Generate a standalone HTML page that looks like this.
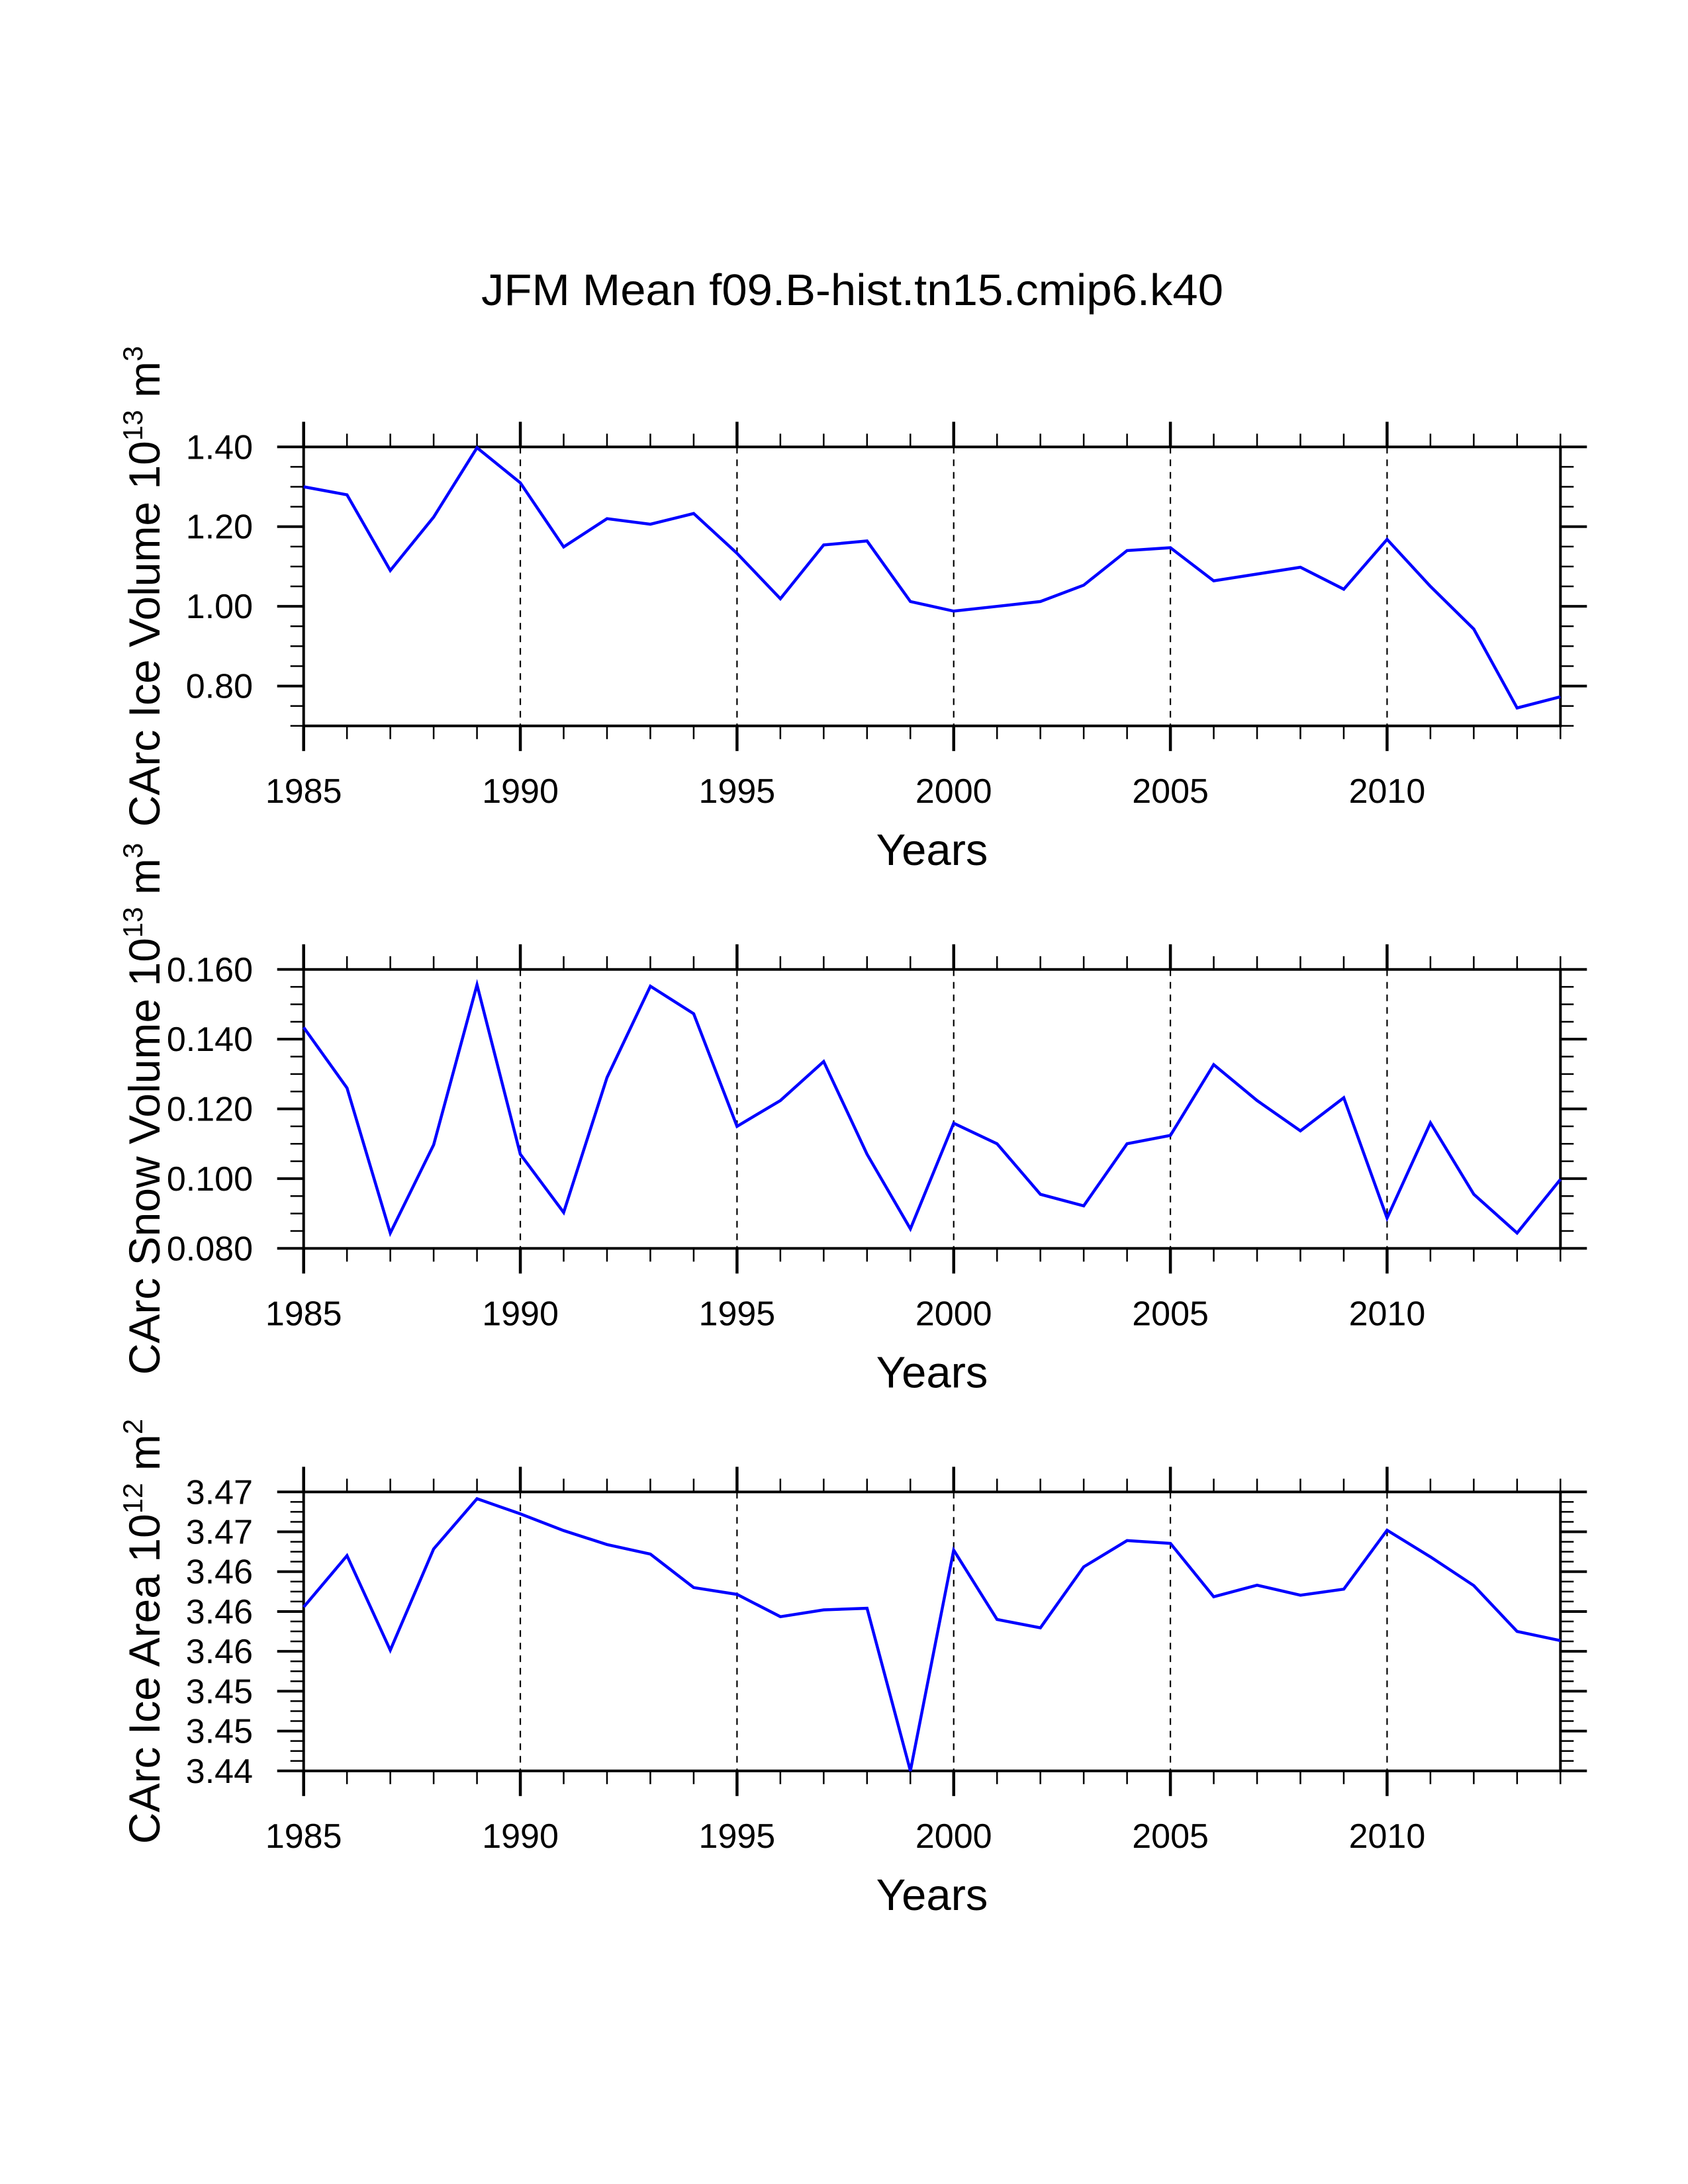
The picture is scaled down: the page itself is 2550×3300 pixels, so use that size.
<!DOCTYPE html>
<html><head><meta charset="utf-8"><style>
html,body{margin:0;padding:0;background:#fff;}
svg{display:block;font-family:"Liberation Sans",Arial,sans-serif;}
</style></head><body>
<svg id="fig" width="2550" height="3300" viewBox="0 0 2550 3300" xmlns="http://www.w3.org/2000/svg">
<rect x="0" y="0" width="2550" height="3300" fill="#fff"/>
<text x="727" y="461" font-size="67" textLength="1121" lengthAdjust="spacingAndGlyphs">JFM Mean f09.B-hist.tn15.cmip6.k40</text>
</svg>
<script>
const years = [1985,1986,1987,1988,1989,1990,1991,1992,1993,1994,1995,1996,1997,1998,1999,2000,2001,2002,2003,2004,2005,2006,2007,2008,2009,2010,2011,2012,2013,2014];
const iceVolume = [1.30,1.28,1.09,1.224,1.398,1.31,1.149,1.22,1.206,1.233,1.133,1.019,1.154,1.164,1.012,0.988,1.00,1.012,1.053,1.14,1.147,1.064,1.081,1.098,1.043,1.168,1.05,0.943,0.745,0.773];
const snowVolume = [0.1434,0.126,0.0844,0.1097,0.1556,0.107,0.0903,0.129,0.1552,0.1473,0.115,0.1224,0.1336,0.107,0.0856,0.1159,0.110,0.0955,0.0922,0.110,0.1124,0.1327,0.1224,0.1137,0.1232,0.0887,0.116,0.0955,0.0844,0.0998];
const iceAreaUnits = [4.11,5.40,3.03,5.57,6.83,6.45,6.03,5.68,5.44,4.60,4.43,3.87,4.04,4.08,0.0,5.54,3.80,3.59,5.12,5.78,5.71,4.37,4.66,4.41,4.56,6.04,5.37,4.65,3.50,3.27];
const iceArea = iceAreaUnits.map(u => 3.444 + u*0.004);
const xTickLabels = ["1985","1990","1995","2000","2005","2010"];
const volTicks = [0.80,1.00,1.20,1.40];
const volTickLabels = ["0.80","1.00","1.20","1.40"];
const snowTicks = [0.080,0.100,0.120,0.140,0.160];
const snowTickLabels = ["0.080","0.100","0.120","0.140","0.160"];
const areaTicks = [3.444,3.448,3.452,3.456,3.460,3.464,3.468,3.472];
const areaTickLabels = ["3.44","3.45","3.45","3.46","3.46","3.46","3.47","3.47"];

const NS = "http://www.w3.org/2000/svg";
const svg = document.getElementById("fig");
const X0 = 458.7, X1 = 2357.3, H = 421.5;
function xs(yr){ return X0 + (yr - 1985) / (2014 - 1985) * (X1 - X0); }
function mk(tag, attrs, parent){
  const e = document.createElementNS(NS, tag);
  for (const k in attrs) e.setAttribute(k, attrs[k]);
  (parent || svg).appendChild(e);
  return e;
}
function panel(name, top, vmin, vmax, ticks, tickLabels, minorStep, data, labelMain, sup1, sup2){
  const g = mk("g", {});
  
  
  const bot = top + H;
  const ys = v => bot - (v - vmin) / (vmax - vmin) * H;
  for (let yr = 1990; yr <= 2010; yr += 5){
    const l = mk("line", {x1: xs(yr), x2: xs(yr), y1: top, y2: bot, stroke: "#000", "stroke-width": 2.2, "stroke-dasharray": "10 9"}, g);
    
    
  }
  for (let yr = 1985; yr <= 2014; yr++){
    const major = (yr % 5 === 0);
    const len = major ? 38 : 20, sw = major ? 4.5 : 2.5;
    mk("line", {x1: xs(yr), x2: xs(yr), y1: top, y2: top - len, stroke: "#000", "stroke-width": sw}, g);
    mk("line", {x1: xs(yr), x2: xs(yr), y1: bot, y2: bot + len, stroke: "#000", "stroke-width": sw}, g);
  }
  xTickLabels.forEach(lbl => {
    const t = mk("text", {x: xs(+lbl), y: bot + 116, "font-size": 52, "text-anchor": "middle"}, g);
    t.textContent = lbl;
    
    
  });
  const nMin = Math.round((vmax - vmin) / minorStep);
  for (let i = 0; i <= nMin; i++){
    const v = vmin + i * minorStep;
    mk("line", {x1: X0, x2: X0 - 20, y1: ys(v), y2: ys(v), stroke: "#000", "stroke-width": 2.5}, g);
    mk("line", {x1: X1, x2: X1 + 20, y1: ys(v), y2: ys(v), stroke: "#000", "stroke-width": 2.5}, g);
  }
  ticks.forEach((v, i) => {
    mk("line", {x1: X0, x2: X0 - 40, y1: ys(v), y2: ys(v), stroke: "#000", "stroke-width": 4}, g);
    mk("line", {x1: X1, x2: X1 + 40, y1: ys(v), y2: ys(v), stroke: "#000", "stroke-width": 4}, g);
    const t = mk("text", {x: 382, y: ys(v) + 18, "font-size": 52, "text-anchor": "end"}, g);
    t.textContent = tickLabels[i];
    
    
  });
  const fr = mk("rect", {x: X0, y: top, width: X1 - X0, height: H, fill: "none", stroke: "#000", "stroke-width": 4}, g);
  
  
  const pts = data.map((v, i) => xs(years[i]).toFixed(1) + "," + ys(v).toFixed(1)).join(" ");
  const pl = mk("polyline", {points: pts, fill: "none", stroke: "#0000ff", "stroke-width": 4.5, "stroke-linejoin": "miter"}, g);
  
  
  const xt = mk("text", {x: (X0 + X1) / 2, y: bot + 210, "font-size": 67, "text-anchor": "middle"}, g);
  xt.textContent = "Years";
  
  
  const cy = (top + bot) / 2;
  const yt = mk("text", {x: 0, y: 0, "font-size": 66, "text-anchor": "middle", transform: "translate(241," + cy + ") rotate(-90)"}, g);
  
  
  const a = mk("tspan", {}, yt); a.textContent = labelMain + " 10";
  const b = mk("tspan", {"font-size": 42, dy: -26}, yt); b.textContent = sup1;
  const c = mk("tspan", {dy: 26}, yt); c.textContent = " m";
  const d = mk("tspan", {"font-size": 42, dy: -26}, yt); d.textContent = sup2;
}
panel("ice-volume", 675.3, 0.70, 1.40, volTicks, volTickLabels, 0.05, iceVolume, "CArc Ice Volume", "13", "3");
panel("snow-volume", 1464.8, 0.080, 0.160, snowTicks, snowTickLabels, 0.005, snowVolume, "CArc Snow Volume", "13", "3");
panel("ice-area", 2254.3, 3.444, 3.472, areaTicks, areaTickLabels, 0.001, iceArea, "CArc Ice Area", "12", "2");
</script>
</body></html>
